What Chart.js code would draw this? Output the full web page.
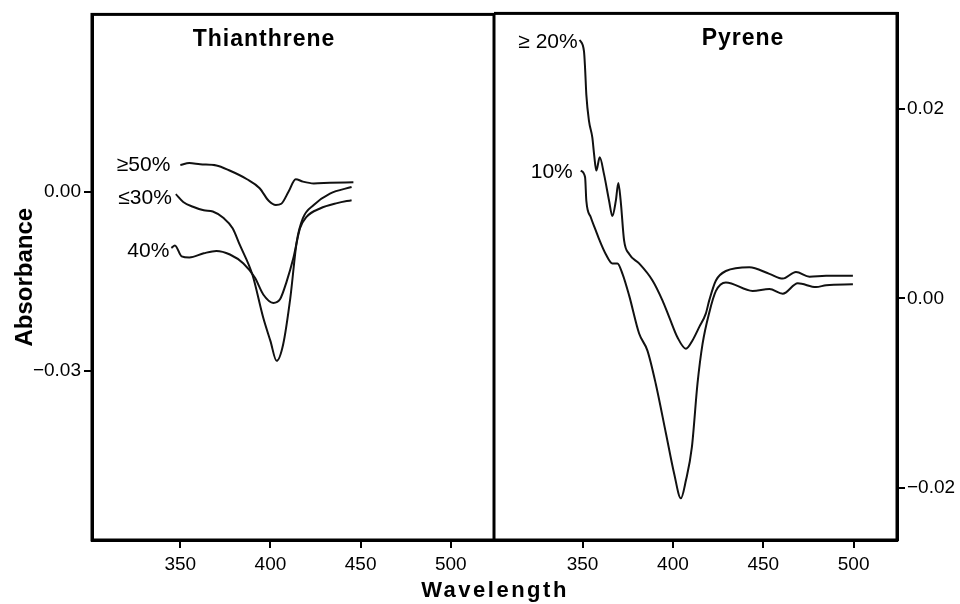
<!DOCTYPE html>
<html>
<head>
<meta charset="utf-8">
<title>Thianthrene / Pyrene absorbance</title>
<script src="https://cdn.jsdelivr.net/npm/chart.js@4.4.0/dist/chart.umd.min.js"></script>
<style>
  html, body { margin: 0; padding: 0; background: #fff; }
  #wrap { position: relative; width: 960px; height: 604px; overflow: hidden; }
  #leftBox { position: absolute; left: 0; top: 0; width: 494px; height: 604px; }
  #rightBox { position: absolute; left: 494px; top: 0; width: 466px; height: 604px; }
  #xTitle {
    position: absolute; left: 395px; width: 200px; top: 577px;
    text-align: center; color: #000; line-height: 22px;
    font: bold 22px 'Liberation Sans', Arial, sans-serif; letter-spacing: 2.5px;
  }
</style>
</head>
<body>
<div id="wrap">
  <div id="leftBox"><canvas id="thianChart" width="494" height="604"></canvas></div>
  <div id="rightBox"><canvas id="pyreneChart" width="466" height="604"></canvas></div>
  <div id="xTitle">Wavelength</div>
</div>
<script>
// ---- data (wavelength nm, absorbance) ----
const xTickValues = [350, 400, 450, 500];
const thianTicks = [0, -0.03];
const pyreneTicks = [0.02, 0, -0.02];

// Thianthrene
const thWl50 = [350, 355, 361, 370, 377, 387, 394, 399, 403, 406, 410, 414, 418, 424, 433, 446];
const thAbs50 = [0.0045, 0.0048, 0.0046, 0.0044, 0.0036, 0.0021, 0.0006, -0.0015, -0.0022, -0.0020, 0.0000, 0.0021, 0.0017, 0.0014, 0.0015, 0.0016];

const thWl30 = [347.5, 351.6, 357, 363, 368, 374, 379, 383, 390, 396, 400, 403.4, 407, 411, 414.6, 418, 424, 433, 445];
const thAbs30 = [-0.0004, -0.0017, -0.0025, -0.0031, -0.0033, -0.0044, -0.0061, -0.0089, -0.0139, -0.0211, -0.0250, -0.0283, -0.0256, -0.0178, -0.0083, -0.0044, -0.0022, -0.0003, 0.0008];

const thWl40 = [345, 347, 350.7, 355, 363, 370, 377.5, 385, 391.4, 396, 401.6, 405.3, 409, 412.7, 416.4, 420, 427.5, 437, 445];
const thAbs40 = [-0.0094, -0.0090, -0.0108, -0.0110, -0.0103, -0.0099, -0.0105, -0.0120, -0.0144, -0.0172, -0.0186, -0.0180, -0.0150, -0.0111, -0.0061, -0.0042, -0.0028, -0.0019, -0.0014];

// Pyrene
const pyWl20 = [348.4, 350.8, 351.4, 352.1, 353.6, 355.4, 356.4, 357.6, 359.5, 361.9, 364.7, 366.5, 368.4, 369.8, 371.1, 373, 375.8, 381.3, 388.7, 394.2, 398, 402.5, 407.2, 410.9, 414.6, 418.2, 420.1, 423.8, 429.3, 442.3, 453.4, 460.8, 468.1, 475.6, 484.8, 499.6];
const pyAbs20 = [0.0273, 0.0261, 0.0243, 0.0215, 0.0187, 0.0170, 0.0152, 0.0135, 0.0149, 0.0131, 0.0103, 0.0087, 0.0103, 0.0122, 0.0103, 0.0061, 0.0047, 0.0037, 0.0019, -0.0002, -0.0020, -0.0041, -0.0053, -0.0044, -0.0030, -0.0016, -0.0002, 0.0019, 0.0029, 0.0033, 0.0026, 0.0021, 0.0028, 0.0023, 0.0024, 0.0024];

const pyWl10 = [349, 351.4, 352.1, 354.5, 357.3, 359.5, 362.8, 366.5, 369.3, 372.1, 375.8, 381.3, 385.9, 390.5, 396.1, 400.7, 404.4, 407.2, 410.5, 413.6, 416.4, 420.1, 423.8, 429.3, 444.1, 453.4, 460.8, 469.1, 479.2, 484.8, 499.6];
const pyAbs10 = [0.0135, 0.0128, 0.0103, 0.0086, 0.0072, 0.0061, 0.0047, 0.0037, 0.0037, 0.0026, 0.0003, -0.0037, -0.0055, -0.0090, -0.0142, -0.0185, -0.0211, -0.0192, -0.0157, -0.0090, -0.0048, -0.0015, 0.0008, 0.0017, 0.0008, 0.0010, 0.0005, 0.0016, 0.0012, 0.0014, 0.0015];

const FONT = "'Liberation Sans', Arial, sans-serif";

function toPoints(xs, ys) {
    return xs.map((x, i) => ({ x: x, y: ys[i] }));
}

function fmtTick(v) {
    return v.toFixed(2).replace('-', '\u2212');
}

function curve(label, xs, ys, labelGap, labelDy) {
    return {
        label: label,
        data: toPoints(xs, ys),
        borderColor: '#111',
        borderWidth: 2,
        pointRadius: 0,
        fill: false,
        cubicInterpolationMode: 'monotone',
        labelGap: labelGap,
        labelDy: labelDy
    };
}

// box around the plot area
const framePlugin = {
    id: 'frame',
    afterDatasetsDraw(chart) {
        const { ctx, chartArea: a } = chart;
        ctx.save();
        ctx.strokeStyle = '#000';
        ctx.lineWidth = 3;
        ctx.strokeRect(a.left, a.top, a.right - a.left, a.bottom - a.top);
        ctx.restore();
    }
};

// panel name inside the plot area
const panelTitlePlugin = {
    id: 'panelTitle',
    afterDraw(chart, args, opts) {
        const { ctx, chartArea: a } = chart;
        ctx.save();
        ctx.font = 'bold 23px ' + FONT;
        if ('letterSpacing' in ctx) ctx.letterSpacing = '1px';
        ctx.fillStyle = '#000';
        ctx.textAlign = 'center';
        ctx.textBaseline = 'middle';
        ctx.fillText(opts.text, a.left + (a.right - a.left) * opts.pos, a.top + 25);
        ctx.restore();
    }
};

// curve names written at the start of each trace
const curveLabelPlugin = {
    id: 'curveLabels',
    afterDatasetsDraw(chart) {
        const ctx = chart.ctx;
        ctx.save();
        ctx.font = '21px ' + FONT;
        ctx.fillStyle = '#000';
        ctx.textAlign = 'right';
        ctx.textBaseline = 'middle';
        chart.data.datasets.forEach((ds, i) => {
            const first = chart.getDatasetMeta(i).data[0];
            if (first) ctx.fillText(ds.label, first.x - ds.labelGap, first.y + ds.labelDy);
        });
        ctx.restore();
    }
};

function xScale() {
    return {
        type: 'linear',
        min: 301,
        max: 524,
        afterBuildTicks: s => { s.ticks = xTickValues.map(v => ({ value: v })); },
        afterFit: s => { s.height = 64; },
        grid: { drawOnChartArea: false, drawTicks: true, tickLength: 8, color: '#000', lineWidth: 2 },
        border: { display: true, color: '#000', width: 3 },
        ticks: { color: '#000', font: { size: 19, family: FONT }, padding: 5, maxRotation: 0 }
    };
}

new Chart(document.getElementById('thianChart'), {
    type: 'line',
    data: {
        datasets: [
            curve('\u226550%', thWl50, thAbs50, 10, 0),
            curve('\u226430%', thWl30, thAbs30, 4, 4),
            curve('40%', thWl40, thAbs40, 2, 3)
        ]
    },
    options: {
        responsive: false,
        animation: false,
        layout: { padding: { top: 12, right: 0, bottom: 0, left: 0 } },
        plugins: {
            legend: { display: false },
            tooltip: { enabled: false },
            panelTitle: { text: 'Thianthrene', pos: 0.428 }
        },
        scales: {
            x: xScale(),
            y: {
                type: 'linear',
                min: -0.0583,
                max: 0.0297,
                afterBuildTicks: s => { s.ticks = thianTicks.map(v => ({ value: v })); },
                afterFit: s => { s.width = 92; },
                grid: { drawOnChartArea: false, drawTicks: true, tickLength: 8, color: '#000', lineWidth: 2 },
                border: { display: true, color: '#000', width: 3 },
                ticks: { color: '#000', font: { size: 19, family: FONT }, padding: 3, callback: v => fmtTick(v) },
                title: {
                    display: true,
                    text: 'Absorbance',
                    color: '#000',
                    font: { size: 24, weight: 'bold', family: FONT },
                    padding: { top: 11, bottom: 0 }
                }
            }
        }
    },
    plugins: [framePlugin, panelTitlePlugin, curveLabelPlugin]
});

new Chart(document.getElementById('pyreneChart'), {
    type: 'line',
    data: {
        datasets: [
            curve('\u2265 20%', pyWl20, pyAbs20, 2, 2),
            curve('10%', pyWl10, pyAbs10, 8, 2)
        ]
    },
    options: {
        responsive: false,
        animation: false,
        layout: { padding: { top: 12, right: 0, bottom: 0, left: 0 } },
        plugins: {
            legend: { display: false },
            tooltip: { enabled: false },
            panelTitle: { text: 'Pyrene', pos: 0.618 }
        },
        scales: {
            x: xScale(),
            y: {
                type: 'linear',
                position: 'right',
                min: -0.0255,
                max: 0.0301,
                afterBuildTicks: s => { s.ticks = pyreneTicks.map(v => ({ value: v })); },
                afterFit: s => { s.width = 63; },
                grid: { drawOnChartArea: false, drawTicks: true, tickLength: 8, color: '#000', lineWidth: 2 },
                border: { display: true, color: '#000', width: 3 },
                ticks: { color: '#000', font: { size: 19, family: FONT }, padding: 2, callback: v => fmtTick(v) }
            }
        }
    },
    plugins: [framePlugin, panelTitlePlugin, curveLabelPlugin]
});
</script>
</body>
</html>
